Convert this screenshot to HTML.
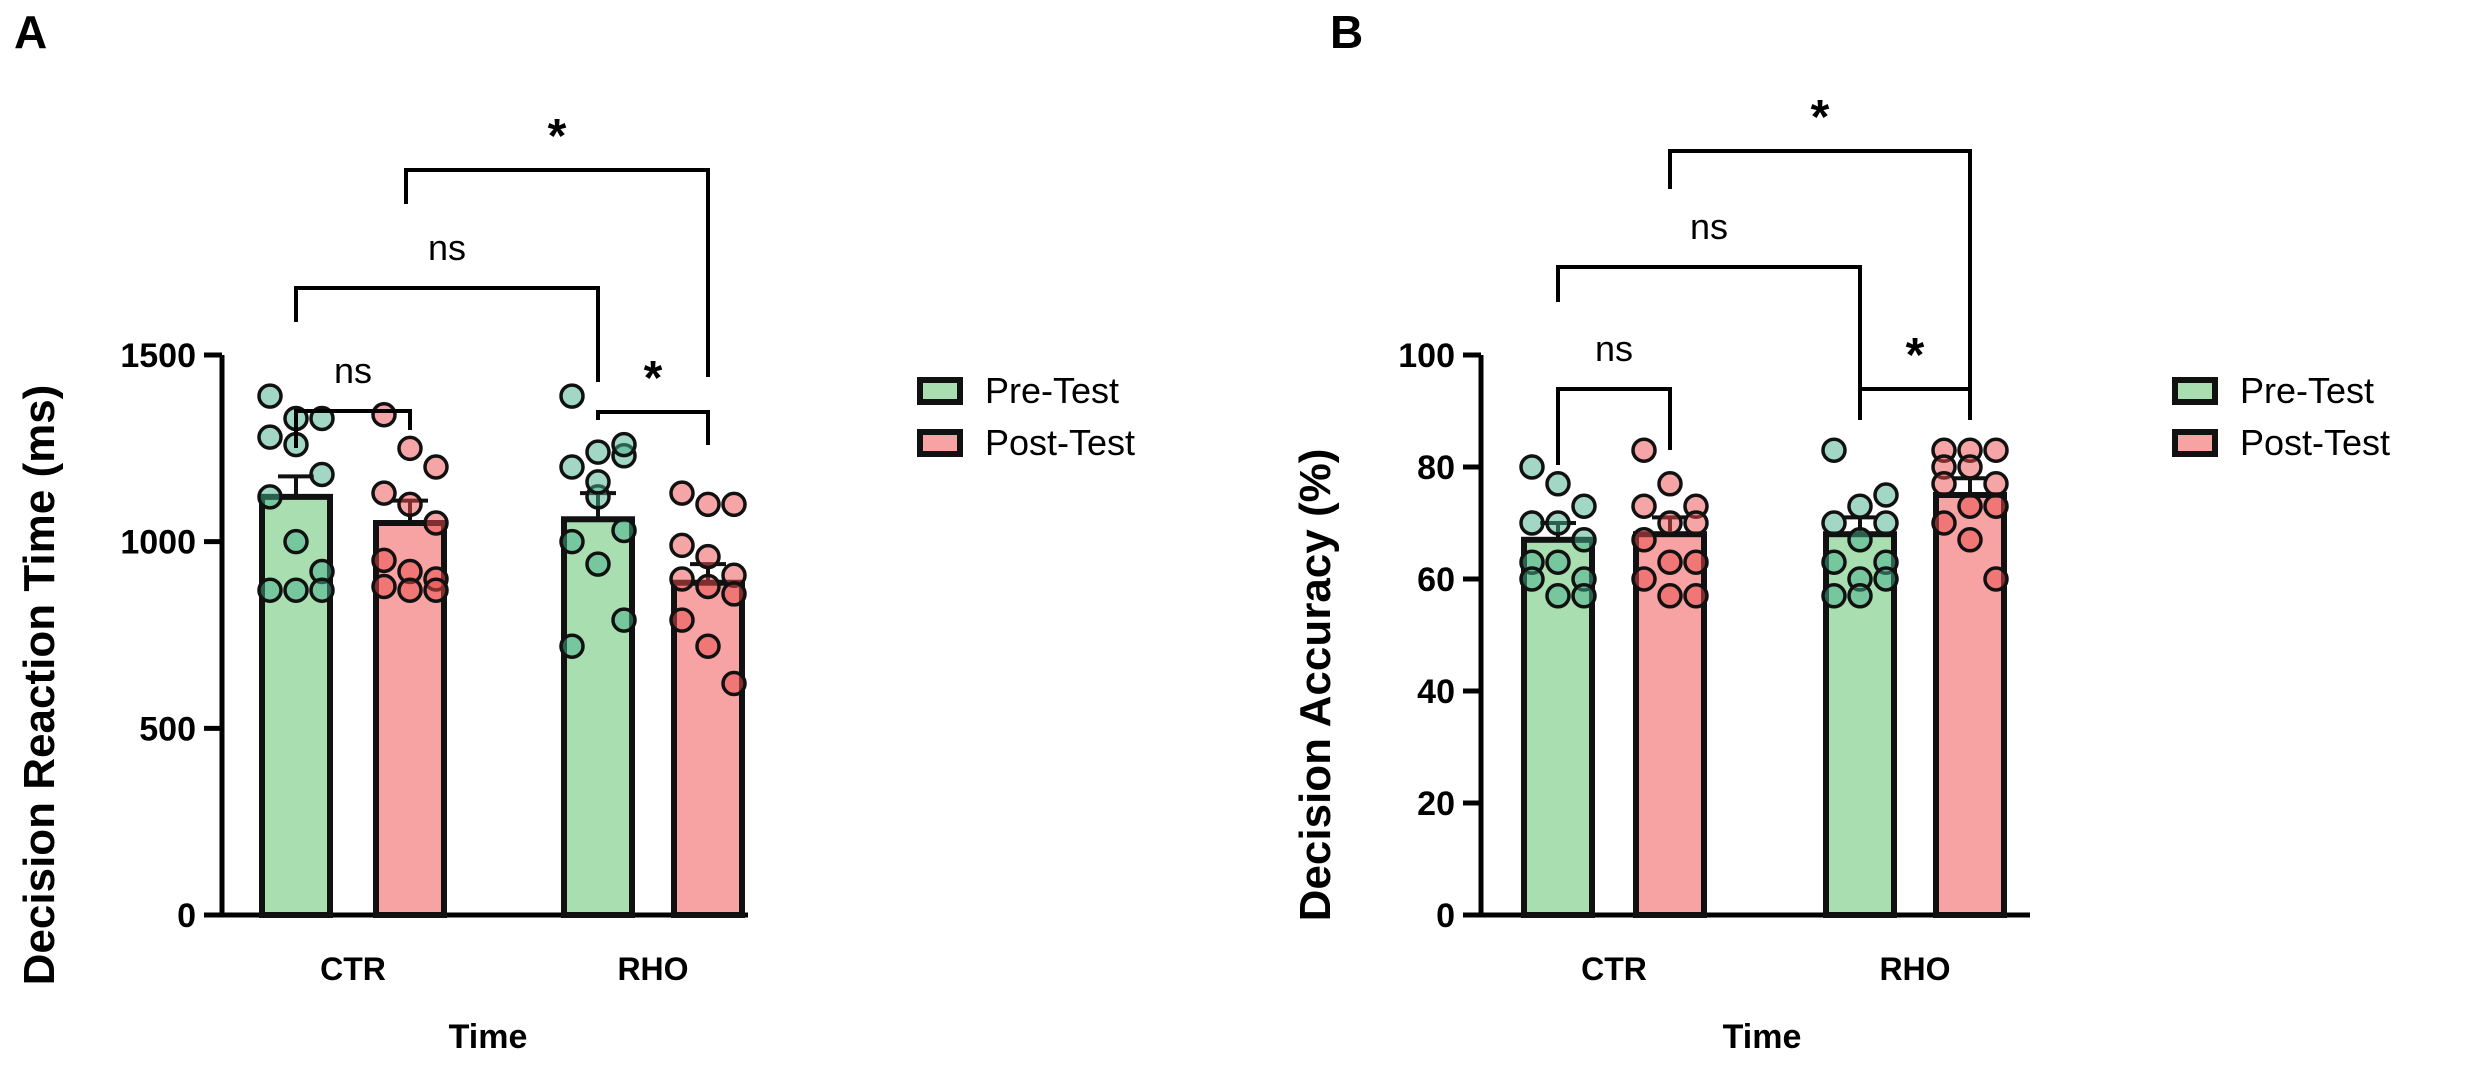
<!DOCTYPE html>
<html><head><meta charset="utf-8"><style>
body{margin:0;background:#fff}
svg{display:block}
text{font-family:"Liberation Sans",Arial,sans-serif}
</style></head><body>
<svg id="fig" width="2467" height="1081" viewBox="0 0 2467 1081" xmlns="http://www.w3.org/2000/svg"></svg>
<script>
const groups = ["CTR","RHO"];
const seriesNames = ["Pre-Test","Post-Test"];
const aTicks = [0,500,1000,1500];
const aMeans = [[1120,1050],[1060,890]];
const aSem = [[55,60],[70,50]];
const aPoints = [
 [[1390,1330,1330,1280,1260,1180,1120,1000,920,870,870,870],[1340,1250,1200,1130,1100,1050,950,920,900,880,870,870]],
 [[1390,1240,1230,1200,1120,1030,1000,940,790,720,1160,1260],[1130,1100,1100,990,960,910,900,880,860,790,720,620]]
];
const bTicks = [0,20,40,60,80,100];
const bMeans = [[67,68],[68,75]];
const bSem = [[3,3],[3,3]];
const bPoints = [
 [[80,77,73,70,70,67,63,63,60,60,57,57],[83,77,73,73,70,70,67,63,63,60,57,57]],
 [[83,73,70,70,67,63,63,60,60,57,57,75],[83,83,83,80,80,77,77,73,73,70,67,60]]
];
const NS="http://www.w3.org/2000/svg";
const svg=document.getElementById('fig');
function el(tag,attrs,parent){const e=document.createElementNS(NS,tag);for(const k in attrs)e.setAttribute(k,attrs[k]);(parent||svg).appendChild(e);return e;}
function txt(s,attrs,parent){const e=el('text',attrs,parent);e.textContent=s;return e;}
const barFill=["#a9dfb0","#f7a3a3"];
const dotFill=["rgba(70,175,140,0.5)","rgba(235,75,75,0.5)"];

function panel(cfg){
  const g=el('g',{});
  
  
  const y=v=>cfg.y0-(v-cfg.min)/(cfg.max-cfg.min)*(cfg.y0-cfg.yTop);
  const ax=el('path',{d:`M${cfg.ax},${y(cfg.max)}V${cfg.y0}H${cfg.xEnd}`,stroke:"#000","stroke-width":5,fill:"none"},g);
  
  cfg.ticks.forEach(t=>{
    const tk=el('line',{x1:cfg.ax-18,x2:cfg.ax,y1:y(t),y2:y(t),stroke:"#000","stroke-width":5},g);
    
    const tl=txt(String(t),{x:cfg.ax-26,y:y(t)+12,"text-anchor":"end","font-size":34,"font-weight":"bold"},g);
    
  });
  groups.forEach((gn,gi)=>{
    [0,1].forEach(si=>{
      const cx=cfg.cx[gi][si], m=cfg.means[gi][si];
      const b=el('rect',{x:cx-34,y:y(m),width:68,height:cfg.y0-y(m),fill:barFill[si],stroke:"#111","stroke-width":6},g);
      
      
      const s=cfg.sem[gi][si];
      const e=el('path',{d:`M${cx},${y(m)}V${y(m+s)}M${cx-18},${y(m+s)}H${cx+18}`,stroke:"#111","stroke-width":4,fill:"none"},g);
      
      cfg.points[gi][si].forEach((v,i)=>{
        const off=((i%3)-1)*26;
        const c=el('circle',{cx:cx+off,cy:y(v),r:11,fill:dotFill[si],stroke:"#111","stroke-width":3.5},g);
        
      });
    });
    const cl=txt(gn,{x:(cfg.cx[gi][0]+cfg.cx[gi][1])/2,y:980,"text-anchor":"middle","font-size":32,"font-weight":"bold"},g);
    
  });
  const xt=txt("Time",{x:cfg.timeX,y:1048,"text-anchor":"middle","font-size":34,"font-weight":"bold"},g);
  
  const yt=txt(cfg.ytitle,{x:0,y:0,"text-anchor":"middle","font-size":44,"font-weight":"bold","xml:space":"preserve",transform:`translate(${cfg.ytX},${(y(cfg.max)+cfg.y0)/2+50}) rotate(-90)`},g);
  
  const lt=txt(cfg.letter,{x:cfg.letterX,y:48,"font-size":46,"font-weight":"bold"},g);
  
  cfg.brackets.forEach(br=>{
    const p=el('path',{d:`M${br[0]},${br[3]}V${br[2]}H${br[1]}V${br[4]}`,stroke:"#000","stroke-width":4,fill:"none"},g);
    
    const star=br[5]==='*';
    const t=txt(br[5],{x:(br[0]+br[1])/2,y:star?br[2]-18:br[2]-28,"text-anchor":"middle","font-size":star?48:36,"font-weight":star?"bold":"normal"},g);
    
  });
  seriesNames.forEach((n,i)=>{
    const ly=cfg.legY+i*52;
    const r=el('rect',{x:cfg.legX,y:ly-10,width:40,height:22,fill:barFill[i],stroke:"#111","stroke-width":6},g);
    
    const t=txt(n,{x:cfg.legX+65,y:ly+13,"font-size":36},g);
    
  });
}
panel({name:'panel-a',min:0,max:1500,y0:915,yTop:355,ax:222,xEnd:748,ticks:aTicks,means:aMeans,sem:aSem,points:aPoints,
  cx:[[296,410],[598,708]],timeX:488,ytitle:"Decision Reaction Time  (ms)",ytX:54,letter:"A",letterX:14,
  brackets:[[296,410,411,448,430,"ns"],[296,598,288,322,382,"ns"],[598,708,412,420,445,"*"],[406,708,170,204,377,"*"]],
  legX:920,legY:390});
panel({name:'panel-b',min:0,max:100,y0:915,yTop:355,ax:1481,xEnd:2030,ticks:bTicks,means:bMeans,sem:bSem,points:bPoints,
  cx:[[1558,1670],[1860,1970]],timeX:1762,ytitle:"Decision Accuracy  (%)",ytX:1330,letter:"B",letterX:1330,
  brackets:[[1558,1670,389,465,450,"ns"],[1558,1860,267,302,400,"ns"],[1860,1970,389,420,420,"*"],[1670,1970,151,189,389,"*"]],
  legX:2175,legY:390});
</script>
</body></html>
